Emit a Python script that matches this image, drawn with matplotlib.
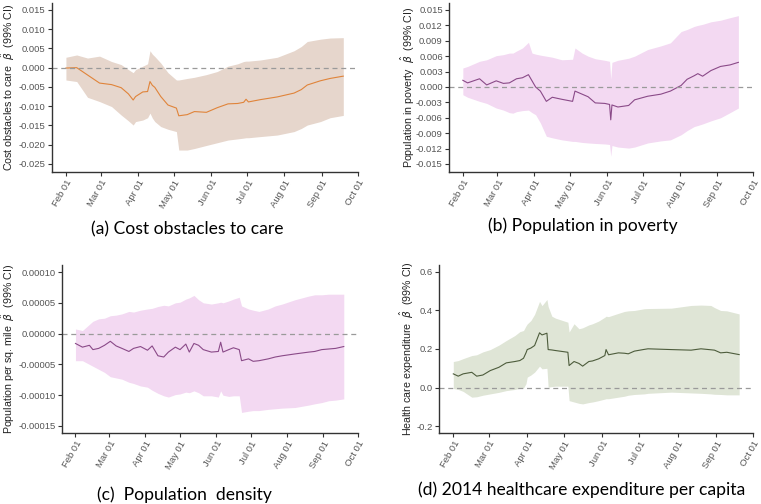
import numpy as np
import pandas as pd
import matplotlib
matplotlib.use("Agg")
import matplotlib.pyplot as plt
import matplotlib.dates as mdates
from matplotlib.ticker import FormatStrFormatter

plt.rcParams['font.family'] = ['Liberation Sans', 'DejaVu Sans']
plt.rcParams['axes.unicode_minus'] = False

# ------------------------------
# Data (days since Feb 01 2020)
# ------------------------------

# (a) Cost obstacles to care
days_a = [0, 9, 18, 28, 38, 46, 52, 56, 58, 64, 68, 70, 72, 74, 79, 85, 92, 94, 101, 107,
          117, 126, 135, 143, 148, 150, 152, 162, 176, 190, 196, 201, 212, 220, 231]
beta_a = [-0.0001, 0.0000, -0.0019, -0.0040, -0.0044, -0.0052, -0.0068, -0.0084, -0.0075, -0.0063,
          -0.0062, -0.0036, -0.0046, -0.0051, -0.0075, -0.0097, -0.0105, -0.0125, -0.0122, -0.0114,
          -0.0116, -0.0104, -0.0094, -0.0093, -0.0090, -0.0082, -0.0089, -0.0083, -0.0076, -0.0066,
          -0.0057, -0.0045, -0.0034, -0.0028, -0.0022]
upper_a = [0.0027, 0.0033, 0.0025, 0.0030, 0.0016, 0.0008, -0.0005, -0.0013, -0.0005, 0.0004,
           0.0010, 0.0044, 0.0035, 0.0029, 0.0012, -0.0013, -0.0032, -0.0032, -0.0028, -0.0025,
           -0.0018, -0.0010, 0.0004, 0.0010, 0.0016, 0.0017, 0.0017, 0.0020, 0.0027, 0.0044,
           0.0055, 0.0068, 0.0074, 0.0077, 0.0078]
lower_a = [-0.0032, -0.0036, -0.0077, -0.0088, -0.0101, -0.0123, -0.0138, -0.0149, -0.0140, -0.0136,
           -0.0130, -0.0118, -0.0131, -0.0140, -0.0153, -0.0160, -0.0166, -0.0214, -0.0214, -0.0210,
           -0.0202, -0.0195, -0.0188, -0.0185, -0.0183, -0.0182, -0.0182, -0.0179, -0.0175, -0.0166,
           -0.0158, -0.0149, -0.0140, -0.0130, -0.0124]

# (b) Population in poverty
days_b = [0, 4, 14, 20, 28, 34, 39, 42, 45, 50, 55, 58, 61, 65, 70, 75, 83, 92, 94, 100, 105,
          111, 119, 123, 124, 125, 130, 139, 144, 155, 166, 174, 183, 188, 194, 197, 201, 208,
          216, 224, 231]
beta_b = [0.0013, 0.0008, 0.0016, 0.0004, 0.0012, 0.0007, 0.0008, 0.0012, 0.0016, 0.0018, 0.0024,
          0.0012, 0.0000, -0.0008, -0.0028, -0.0020, -0.0024, -0.0028, -0.0008, -0.0014, -0.0019,
          -0.0031, -0.0032, -0.0034, -0.0064, -0.0035, -0.0039, -0.0036, -0.0025, -0.0018, -0.0014,
          -0.0008, 0.0003, 0.0015, 0.0022, 0.0026, 0.0021, 0.0032, 0.0040, 0.0043, 0.0048]
upper_b = [0.0037, 0.0040, 0.0050, 0.0053, 0.0061, 0.0063, 0.0066, 0.0066, 0.0070, 0.0076, 0.0087,
           0.0066, 0.0064, 0.0062, 0.0060, 0.0058, 0.0053, 0.0054, 0.0076, 0.0066, 0.0060,
           0.0055, 0.0052, 0.0050, 0.0015, 0.0048, 0.0052, 0.0056, 0.0060, 0.0073, 0.0080,
           0.0086, 0.0108, 0.0112, 0.0118, 0.0120, 0.0122, 0.0127, 0.0130, 0.0135, 0.0139]
lower_b = [-0.0015, -0.0020, -0.0028, -0.0032, -0.0041, -0.0045, -0.0050, -0.0051, -0.0048, -0.0046, -0.0045,
           -0.0050, -0.0054, -0.0070, -0.0096, -0.0099, -0.0103, -0.0106, -0.0106, -0.0108, -0.0109,
           -0.0110, -0.0111, -0.0112, -0.0135, -0.0114, -0.0117, -0.0119, -0.0117, -0.0109, -0.0105,
           -0.0103, -0.0093, -0.0085, -0.0077, -0.0075, -0.0072, -0.0066, -0.0060, -0.0050, -0.0041]

# (c) Population density
days_c = [0, 6, 12, 15, 20, 25, 30, 35, 40, 46, 50, 56, 62, 66, 71, 76, 80, 86, 90, 95, 98, 102,
          106, 110, 117, 123, 125, 127, 132, 136, 141, 143, 149, 153, 158, 166, 172, 178, 189,
          201, 206, 212, 218, 224, 231]
beta_c = [-1.6, -2.2, -1.9, -2.6, -2.4, -1.9, -1.25, -2.0, -2.4, -2.9, -2.4, -2.1, -2.7, -2.0, -3.6,
          -3.8, -3.0, -2.2, -2.6, -1.7, -3.0, -1.6, -1.9, -2.6, -3.0, -2.9, -1.4, -3.0, -2.6, -2.3,
          -2.6, -4.4, -4.1, -4.5, -4.4, -4.1, -3.8, -3.6, -3.3, -3.0, -2.9, -2.6, -2.5, -2.4, -2.1]
upper_c = [0.75, 0.5, 1.5, 2.0, 2.4, 2.5, 2.9, 3.0, 3.2, 3.6, 3.5, 3.8, 4.0, 4.1, 4.4, 4.6, 4.5,
           5.0, 5.1, 5.6, 5.8, 6.2, 5.5, 5.0, 4.8, 5.0, 5.1, 5.0, 5.3, 5.6, 5.9, 4.5, 4.0, 3.8,
           3.6, 4.0, 4.5, 4.8, 5.5, 6.1, 6.3, 6.3, 6.4, 6.4, 6.4]
lower_c = [-4.4, -4.4, -5.0, -5.3, -5.8, -6.3, -7.0, -7.2, -7.4, -7.9, -8.1, -8.5, -8.7, -9.2, -9.7,
           -10.1, -10.3, -9.9, -9.8, -9.5, -9.6, -9.3, -9.6, -10.1, -10.1, -10.3, -9.3, -10.0, -10.2,
           -10.1, -10.1, -12.8, -12.6, -12.5, -12.5, -12.3, -12.2, -12.1, -12.0, -11.6, -11.4,
           -11.2, -10.9, -10.8, -10.6]
escala_c = 1e-5  # values of (c) are written in units of 1e-5

# (d) 2014 healthcare expenditure per capita
days_d = [0, 4, 8, 15, 19, 24, 30, 37, 43, 50, 54, 57, 59, 60, 63, 66, 70, 72, 76, 77, 80, 83,
          93, 94, 98, 102, 105, 110, 113, 118, 123, 124, 126, 134, 139, 142, 147, 155, 158,
          177, 193, 201, 209, 212, 217, 222, 232]
beta_d = [0.071, 0.059, 0.071, 0.079, 0.059, 0.065, 0.088, 0.105, 0.128, 0.135, 0.140, 0.152,
          0.180, 0.197, 0.205, 0.218, 0.284, 0.273, 0.282, 0.197, 0.195, 0.192, 0.183, 0.114,
          0.135, 0.125, 0.111, 0.135, 0.138, 0.149, 0.166, 0.197, 0.170, 0.180, 0.178, 0.175,
          0.189, 0.198, 0.201, 0.197, 0.194, 0.201, 0.196, 0.194, 0.180, 0.183, 0.171]
upper_d = [0.135, 0.140, 0.150, 0.166, 0.170, 0.185, 0.197, 0.220, 0.244, 0.270, 0.290, 0.296,
           0.320, 0.330, 0.348, 0.380, 0.447, 0.425, 0.457, 0.420, 0.370, 0.360, 0.339, 0.288,
           0.331, 0.305, 0.310, 0.325, 0.331, 0.345, 0.365, 0.370, 0.368, 0.385, 0.395, 0.398,
           0.400, 0.409, 0.410, 0.412, 0.426, 0.428, 0.426, 0.415, 0.400, 0.398, 0.382]
lower_d = [-0.005, -0.010, -0.020, -0.050, -0.048, -0.040, -0.033, -0.025, -0.016, -0.010, -0.004,
           -0.002, 0.020, 0.054, 0.065, 0.080, 0.111, 0.097, 0.100, 0.002, 0.005, 0.007, 0.007,
           -0.068, -0.075, -0.082, -0.085, -0.078, -0.075, -0.068, -0.060, -0.058, -0.058, -0.050,
           -0.045, -0.040, -0.036, -0.033, -0.030, -0.024, -0.028, -0.030, -0.033, -0.035, -0.036,
           -0.038, -0.038]

# y tick values of each panel
yticks_a = [-0.025, -0.020, -0.015, -0.010, -0.005, 0.0, 0.005, 0.010, 0.015]
yticks_b = [-0.015, -0.012, -0.009, -0.006, -0.003, 0.0, 0.003, 0.006, 0.009, 0.012, 0.015]
yticks_c = [-0.00015, -0.00010, -0.00005, 0.0, 0.00005, 0.00010]
yticks_d = [-0.2, 0.0, 0.2, 0.4, 0.6]

inicio = pd.Timestamp("2020-02-01")
fin = pd.Timestamp("2020-10-01")


def a_fechas(dias):
    return inicio + pd.to_timedelta(dias, unit="D")


def dibujar_panel(ax, dias, beta, inferior, superior, color_banda, color_linea,
                  etiqueta, yticks, formato, ylim, x_etiqueta):
    fechas = a_fechas(dias)
    ax.fill_between(fechas, inferior, superior, color=color_banda, linewidth=0)
    ax.plot(fechas, beta, color=color_linea, linewidth=0.8)
    ax.axhline(0, color='#9a9a9a', linestyle=(0, (4, 3)), linewidth=0.9)

    ax.set_xlim(inicio - pd.Timedelta(days=11.6), fin + pd.Timedelta(hours=6))
    ax.set_ylim(*ylim)
    ax.set_yticks(yticks)
    ax.yaxis.set_major_formatter(FormatStrFormatter(formato))
    ax.xaxis.set_major_locator(mdates.MonthLocator(bymonthday=1))
    ax.xaxis.set_major_formatter(mdates.DateFormatter('%b %d'))

    for lado in ['top', 'right']:
        ax.spines[lado].set_visible(False)
    for lado in ['left', 'bottom']:
        ax.spines[lado].set_color('#333333')
        ax.spines[lado].set_linewidth(1.0)
    ax.tick_params(axis='both', colors='#333333', length=3, width=0.8,
                   labelsize=6.8, labelcolor='#555555', pad=1.5)
    plt.setp(ax.get_xticklabels(), rotation=60, ha='right', rotation_mode='anchor')
    ax.set_ylabel(etiqueta + r'  $\hat{\beta}$  (99% CI)', fontsize=7.7, color='#222222')
    ax.yaxis.set_label_coords(x_etiqueta, 0.5)


W, H = 761, 504
fig = plt.figure(figsize=(W / 100, H / 100), dpi=100)


def caja(izq, arriba, der, abajo):
    return [izq / W, 1 - abajo / H, (der - izq) / W, (abajo - arriba) / H]


ax_a = fig.add_axes(caja(52, 3, 358, 172))
ax_b = fig.add_axes(caja(449, 3, 753, 172))
ax_c = fig.add_axes(caja(62, 265, 358, 433))
ax_d = fig.add_axes(caja(439, 265, 753, 433))

dibujar_panel(ax_a, days_a, beta_a, lower_a, upper_a, '#e6d6cc', '#e0843a',
              'Cost obstacles to care', yticks_a, '%.3f', (-0.0271, 0.0168), -0.114)
dibujar_panel(ax_b, days_b, beta_b, lower_b, upper_b, '#f3d9f2', '#8a4a88',
              'Population in poverty', yticks_b, '%.3f', (-0.01656, 0.01636), -0.105)
dibujar_panel(ax_c, days_c, np.array(beta_c) * escala_c, np.array(lower_c) * escala_c,
              np.array(upper_c) * escala_c, '#f3d9f2', '#8a4a88',
              'Population per sq. mile', yticks_c, '%.5f', (-0.0001614, 0.0001114), -0.152)
dibujar_panel(ax_d, days_d, beta_d, lower_d, upper_d, '#dfe5d6', '#4d5c3c',
              'Health care expenditure', yticks_d, '%.1f', (-0.236, 0.636), -0.074)

# Captions under each panel
estilo = dict(fontsize=12.6, family=['Lato', 'DejaVu Sans'], ha='center', va='center', color='black')
fig.text(187 / W, 1 - 229 / H, '(a) Cost obstacles to care', **estilo)
fig.text(583 / W, 1 - 226 / H, '(b) Population in poverty', **estilo)
fig.text(184 / W, 1 - 495 / H, '(c)  Population  density', **estilo)
fig.text(582 / W, 1 - 490 / H, '(d) 2014 healthcare expenditure per capita', **estilo)

fig.savefig('out.png', dpi=100)
